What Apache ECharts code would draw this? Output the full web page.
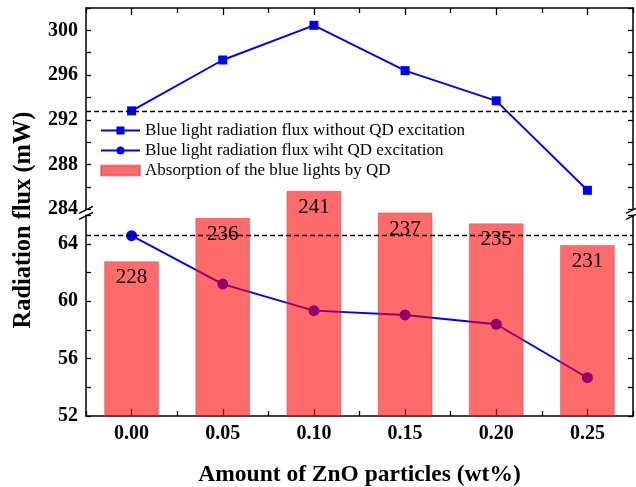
<!DOCTYPE html>
<html><head><meta charset="utf-8">
<script src="https://cdn.jsdelivr.net/npm/echarts@6/dist/echarts.min.js"></script>
<style>html,body{margin:0;padding:0;background:#fff}#c{width:636px;height:487px}</style>
</head><body><div id="c"></div>
<script>
const categories = ['0.00', '0.05', '0.10', '0.15', '0.20', '0.25'];
const fluxWithout = [292.8, 297.35, 300.45, 296.4, 293.7, 285.7];
const fluxWith = [64.58, 61.2, 59.35, 59.05, 58.4, 54.67];
const absorption = [228, 236, 241, 237, 235, 231];
const seriesNames = [
  'Blue light radiation flux without QD excitation',
  'Blue light radiation flux wiht QD excitation',
  'Absorption of the blue lights by QD'
];
const xTitle = 'Amount of ZnO particles (wt%)';
const yTitle = 'Radiation flux (mW)';

const FONT = "'Liberation Serif','Times New Roman',serif";
const L = 86, R = 3, T = 8, B = 71;
const TOP_GRID_BOTTOM_Y = 209.3, BOT_GRID_TOP_Y = 215.3, H = 487;

const chart = echarts.init(document.getElementById('c'), null, {renderer: 'canvas'});

function hiddenX(grid) {
  return {type: 'category', gridIndex: grid, data: categories, boundaryGap: true, show: false};
}
function tickX(position, align, len, showLabel, showLine) {
  return {
    type: 'category', gridIndex: 0, data: categories, boundaryGap: true, position: position,
    axisLine: {show: showLine, lineStyle: {color: '#000', width: 1.5}},
    axisTick: {show: true, inside: true, alignWithLabel: align, length: len, lineStyle: {color: '#000', width: 1.3}},
    axisLabel: {show: showLabel, color: '#000', fontFamily: FONT, fontWeight: 'bold', fontSize: 20, margin: 8},
    splitLine: {show: false}
  };
}
function segY(grid, position, min, max, labels) {
  return {
    type: 'value', gridIndex: grid, position: position, min: min, max: max, interval: 2,
    axisLine: {show: true, lineStyle: {color: '#000', width: 1.5}},
    axisTick: {show: true, inside: true, length: 5, lineStyle: {color: '#000', width: 1.3}},
    axisLabel: {show: labels, color: '#000', fontFamily: FONT, fontWeight: 'bold', fontSize: 20, margin: 8,
      formatter: v => (Math.round(v) % 4 === 0 ? String(Math.round(v)) : '')},
    splitLine: {show: false}
  };
}
function breakMark(x, y) {
  return {type: 'line', shape: {x1: x - 7, y1: y + 3.5, x2: x + 7, y2: y - 3.5},
    style: {stroke: '#000', lineWidth: 1.3}, z: 100};
}
const dashed = {type: [5, 3], color: '#000', width: 1.3};

chart.setOption({
  animation: false,
  backgroundColor: '#fff',
  grid: [
    {left: L, right: R, top: T, bottom: B, outerBoundsMode: 'none', containLabel: false},
    {left: L, right: R, top: T, bottom: H - TOP_GRID_BOTTOM_Y, outerBoundsMode: 'none', containLabel: false},
    {left: L, right: R, top: BOT_GRID_TOP_Y, bottom: B, outerBoundsMode: 'none', containLabel: false}
  ],
  xAxis: [
    Object.assign(tickX('bottom', true, 7, true, true), {
      name: xTitle, nameLocation: 'middle', nameGap: 47,
      nameTextStyle: {color: '#000', fontFamily: FONT, fontWeight: 'bold', fontSize: 23.5}
    }),
    tickX('bottom', false, 5, false, false),
    tickX('top', true, 7, false, true),
    tickX('top', false, 5, false, false),
    hiddenX(1),
    hiddenX(2)
  ],
  yAxis: [
    {type: 'value', gridIndex: 0, min: 199.4, max: 274.8, position: 'left',
      axisLine: {show: false}, axisTick: {show: false}, axisLabel: {show: false}, splitLine: {show: false},
      name: yTitle, nameLocation: 'middle', nameGap: 50, nameRotate: 90,
      nameTextStyle: {color: '#000', fontFamily: FONT, fontWeight: 'bold', fontSize: 24.4, padding: [0, 16, 0, 0]}},
    segY(1, 'left', 284, 302, true),
    segY(1, 'right', 284, 302, false),
    segY(2, 'left', 52, 66, true),
    segY(2, 'right', 52, 66, false)
  ],
  legend: {
    orient: 'vertical', left: 100, top: 122, padding: 0, itemGap: 3,
    itemWidth: 39, itemHeight: 10,
    textStyle: {color: '#000', fontFamily: FONT, fontSize: 17},
    data: [
      {name: seriesNames[0]},
      {name: seriesNames[1]},
      {name: seriesNames[2], icon: 'rect'}
    ]
  },
  series: [
    {
      name: seriesNames[2], type: 'bar', xAxisIndex: 0, yAxisIndex: 0, data: absorption,
      barWidth: '60%', z: 5,
      itemStyle: {color: 'rgba(255,0,0,0.58)', borderColor: 'rgba(190,60,60,0.5)', borderWidth: 0.8},
      label: {show: true, position: 'insideTop', distance: 6, color: '#000', fontFamily: FONT, fontSize: 21}
    },
    {
      name: seriesNames[0], type: 'line', xAxisIndex: 4, yAxisIndex: 1, data: fluxWithout,
      symbol: 'rect', symbolSize: 9, z: 2,
      itemStyle: {color: '#0000ff'}, lineStyle: {color: '#0000ff', width: 1.9},
      markLine: {silent: true, symbol: ['none', 'none'], label: {show: false}, lineStyle: dashed, z: 10,
        data: [{yAxis: fluxWithout[0]}]}
    },
    {
      name: seriesNames[1], type: 'line', xAxisIndex: 5, yAxisIndex: 3, data: fluxWith,
      symbol: 'circle', symbolSize: 11, z: 2,
      itemStyle: {color: '#0000ff'}, lineStyle: {color: '#0000ff', width: 1.9},
      markLine: {silent: true, symbol: ['none', 'none'], label: {show: false}, lineStyle: dashed, z: 10,
        data: [{yAxis: fluxWith[0]}]}
    }
  ],
  graphic: [
    breakMark(L, TOP_GRID_BOTTOM_Y + 0.5),
    breakMark(L, BOT_GRID_TOP_Y + 0.5),
    breakMark(636 - R, TOP_GRID_BOTTOM_Y + 0.5),
    breakMark(636 - R, BOT_GRID_TOP_Y + 0.5)
  ]
});
</script></body></html>
